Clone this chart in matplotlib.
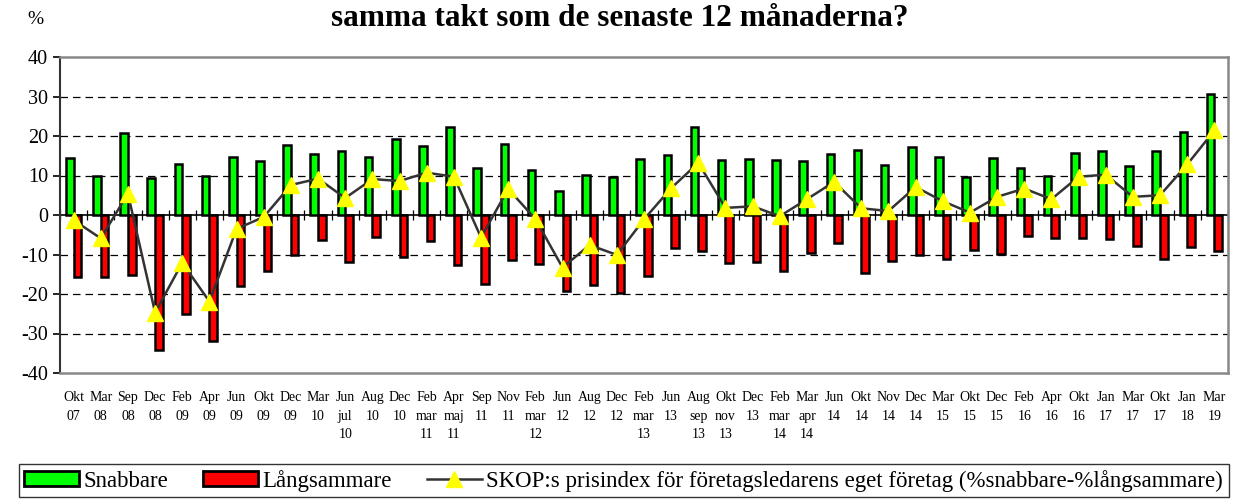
import numpy as np
import matplotlib.pyplot as plt
from matplotlib.patches import Patch
from matplotlib.lines import Line2D

plt.rcParams['font.family'] = ['Liberation Serif', 'DejaVu Serif']

etiketter = ['Okt\n07', 'Mar\n08', 'Sep\n08', 'Dec\n08', 'Feb\n09', 'Apr\n09', 'Jun\n09',
             'Okt\n09', 'Dec\n09', 'Mar\n10', 'Jun\njul\n10', 'Aug\n10', 'Dec\n10',
             'Feb\nmar\n11', 'Apr\nmaj\n11', 'Sep\n11', 'Nov\n11', 'Feb\nmar\n12',
             'Jun\n12', 'Aug\n12', 'Dec\n12', 'Feb\nmar\n13', 'Jun\n13', 'Aug\nsep\n13',
             'Okt\nnov\n13', 'Dec\n13', 'Feb\nmar\n14', 'Mar\napr\n14', 'Jun\n14',
             'Okt\n14', 'Nov\n14', 'Dec\n14', 'Mar\n15', 'Okt\n15', 'Dec\n15', 'Feb\n16',
             'Apr\n16', 'Okt\n16', 'Jan\n17', 'Mar\n17', 'Okt\n17', 'Jan\n18', 'Mar\n19']

snabbare = [14.5, 9.8, 20.7, 9.4, 12.9, 9.9, 14.6, 13.7, 17.7, 15.5, 16.2, 14.7, 19.2,
            17.4, 22.4, 11.8, 17.9, 11.3, 6.0, 10.1, 9.7, 14.3, 15.1, 22.4, 14.0, 14.1,
            14.0, 13.6, 15.4, 16.5, 12.6, 17.2, 14.7, 9.5, 14.4, 12.0, 9.8, 15.6, 16.3,
            12.5, 16.1, 21.0, 30.6]

langsammare = [-15.8, -15.7, -15.3, -34.1, -25.0, -31.8, -18.1, -14.2, -10.1, -6.3, -11.9,
               -5.6, -10.6, -6.7, -12.7, -17.5, -11.3, -12.3, -19.3, -17.7, -19.8, -15.4,
               -8.3, -9.2, -12.2, -11.9, -14.3, -9.6, -7.0, -14.8, -11.6, -10.1, -11.2,
               -8.9, -9.8, -5.3, -5.8, -5.9, -6.1, -7.9, -11.1, -8.2, -9.2]

prisindex = [-1.3, -5.9, 5.4, -24.7, -12.1, -21.9, -3.5, -0.5, 7.6, 9.2, 4.3, 9.1, 8.6,
             10.7, 9.7, -5.7, 6.6, -1.0, -13.3, -7.6, -10.1, -1.1, 6.8, 13.2, 1.8, 2.2,
             -0.3, 4.0, 8.4, 1.7, 1.0, 7.1, 3.5, 0.6, 4.6, 6.7, 4.0, 9.7, 10.2, 4.6, 5.0,
             12.8, 21.4]

x = np.arange(len(etiketter))
bredd = 0.28

fig = plt.figure(figsize=(12.35, 5.0), dpi=100)
ax = fig.add_axes([0.0486, 0.254, 0.9457, 0.632])

ax.bar(x - bredd / 2, snabbare, bredd, color='#00ff00', edgecolor='black', linewidth=1.8, zorder=3)
ax.bar(x + bredd / 2, langsammare, bredd, color='#ff0000', edgecolor='black', linewidth=1.8, zorder=3)
ax.plot(x, prisindex, color='#333333', linewidth=1.8, marker='^', markersize=12,
        markerfacecolor='#ffff00', markeredgecolor='#ffff00', zorder=5)

ax.set_xlim(-0.5, len(x) - 0.5)
ax.set_ylim(-40, 40)
ax.set_yticks(range(-40, 41, 10))
ax.set_yticklabels([str(v) for v in range(-40, 41, 10)], fontsize=14.5)
for v in [-30, -20, -10, 10, 20, 30]:
    ax.axhline(v, color='black', linestyle=(0, (6, 4)), linewidth=0.9, zorder=1)
ax.axhline(0, color='black', linewidth=1.2, zorder=2)

# tickmarkeringar på nollinjen, mellan kategorierna
granser = np.arange(len(x) + 1) - 0.5
ax.plot(granser, np.zeros(len(granser)), linestyle='none', marker='|', markersize=7,
        markeredgewidth=0.9, color='black', zorder=2)

ax.set_xticks(x)
ax.set_xticklabels(etiketter, fontsize=10, linespacing=1.55, va='top')
ax.tick_params(axis='x', length=0, pad=13)
ax.tick_params(axis='y', length=5, width=1.2, direction='out')

for s in ['top', 'right', 'bottom']:
    ax.spines[s].set_color('#888888')
    ax.spines[s].set_linewidth(1.8)
ax.spines['left'].set_color('#333333')
ax.spines['left'].set_linewidth(1.5)

fig.text(0.029, 0.962, '%', fontsize=14, va='center', ha='center')
fig.text(0.502, 0.962, 'samma takt som de senaste 12 månaderna?', fontsize=22.5,
         fontweight='bold', ha='center', va='center')

handtag = [Patch(facecolor='#00ff00', edgecolor='black', linewidth=2),
           Patch(facecolor='#ff0000', edgecolor='black', linewidth=2),
           Line2D([0], [0], color='#333333', linewidth=1.8, marker='^', markersize=12,
                  markerfacecolor='#ffff00', markeredgecolor='#ffff00')]
namn = ['Snabbare', 'Långsammare',
        'SKOP:s prisindex för företagsledarens eget företag (%snabbare-%långsammare)']
leg = fig.legend(handtag, namn, loc='upper left', bbox_to_anchor=(0.015, 0.072, 0.98, 0.0),
                 mode='expand', ncol=3, fontsize=16.5, frameon=True, fancybox=False,
                 handlelength=2.4, handleheight=0.65, handletextpad=0.2,
                 columnspacing=1.1, borderpad=0.25, borderaxespad=0)
leg.get_frame().set_edgecolor('black')
leg.get_frame().set_linewidth(1.0)

fig.savefig('out.png', dpi=100)
